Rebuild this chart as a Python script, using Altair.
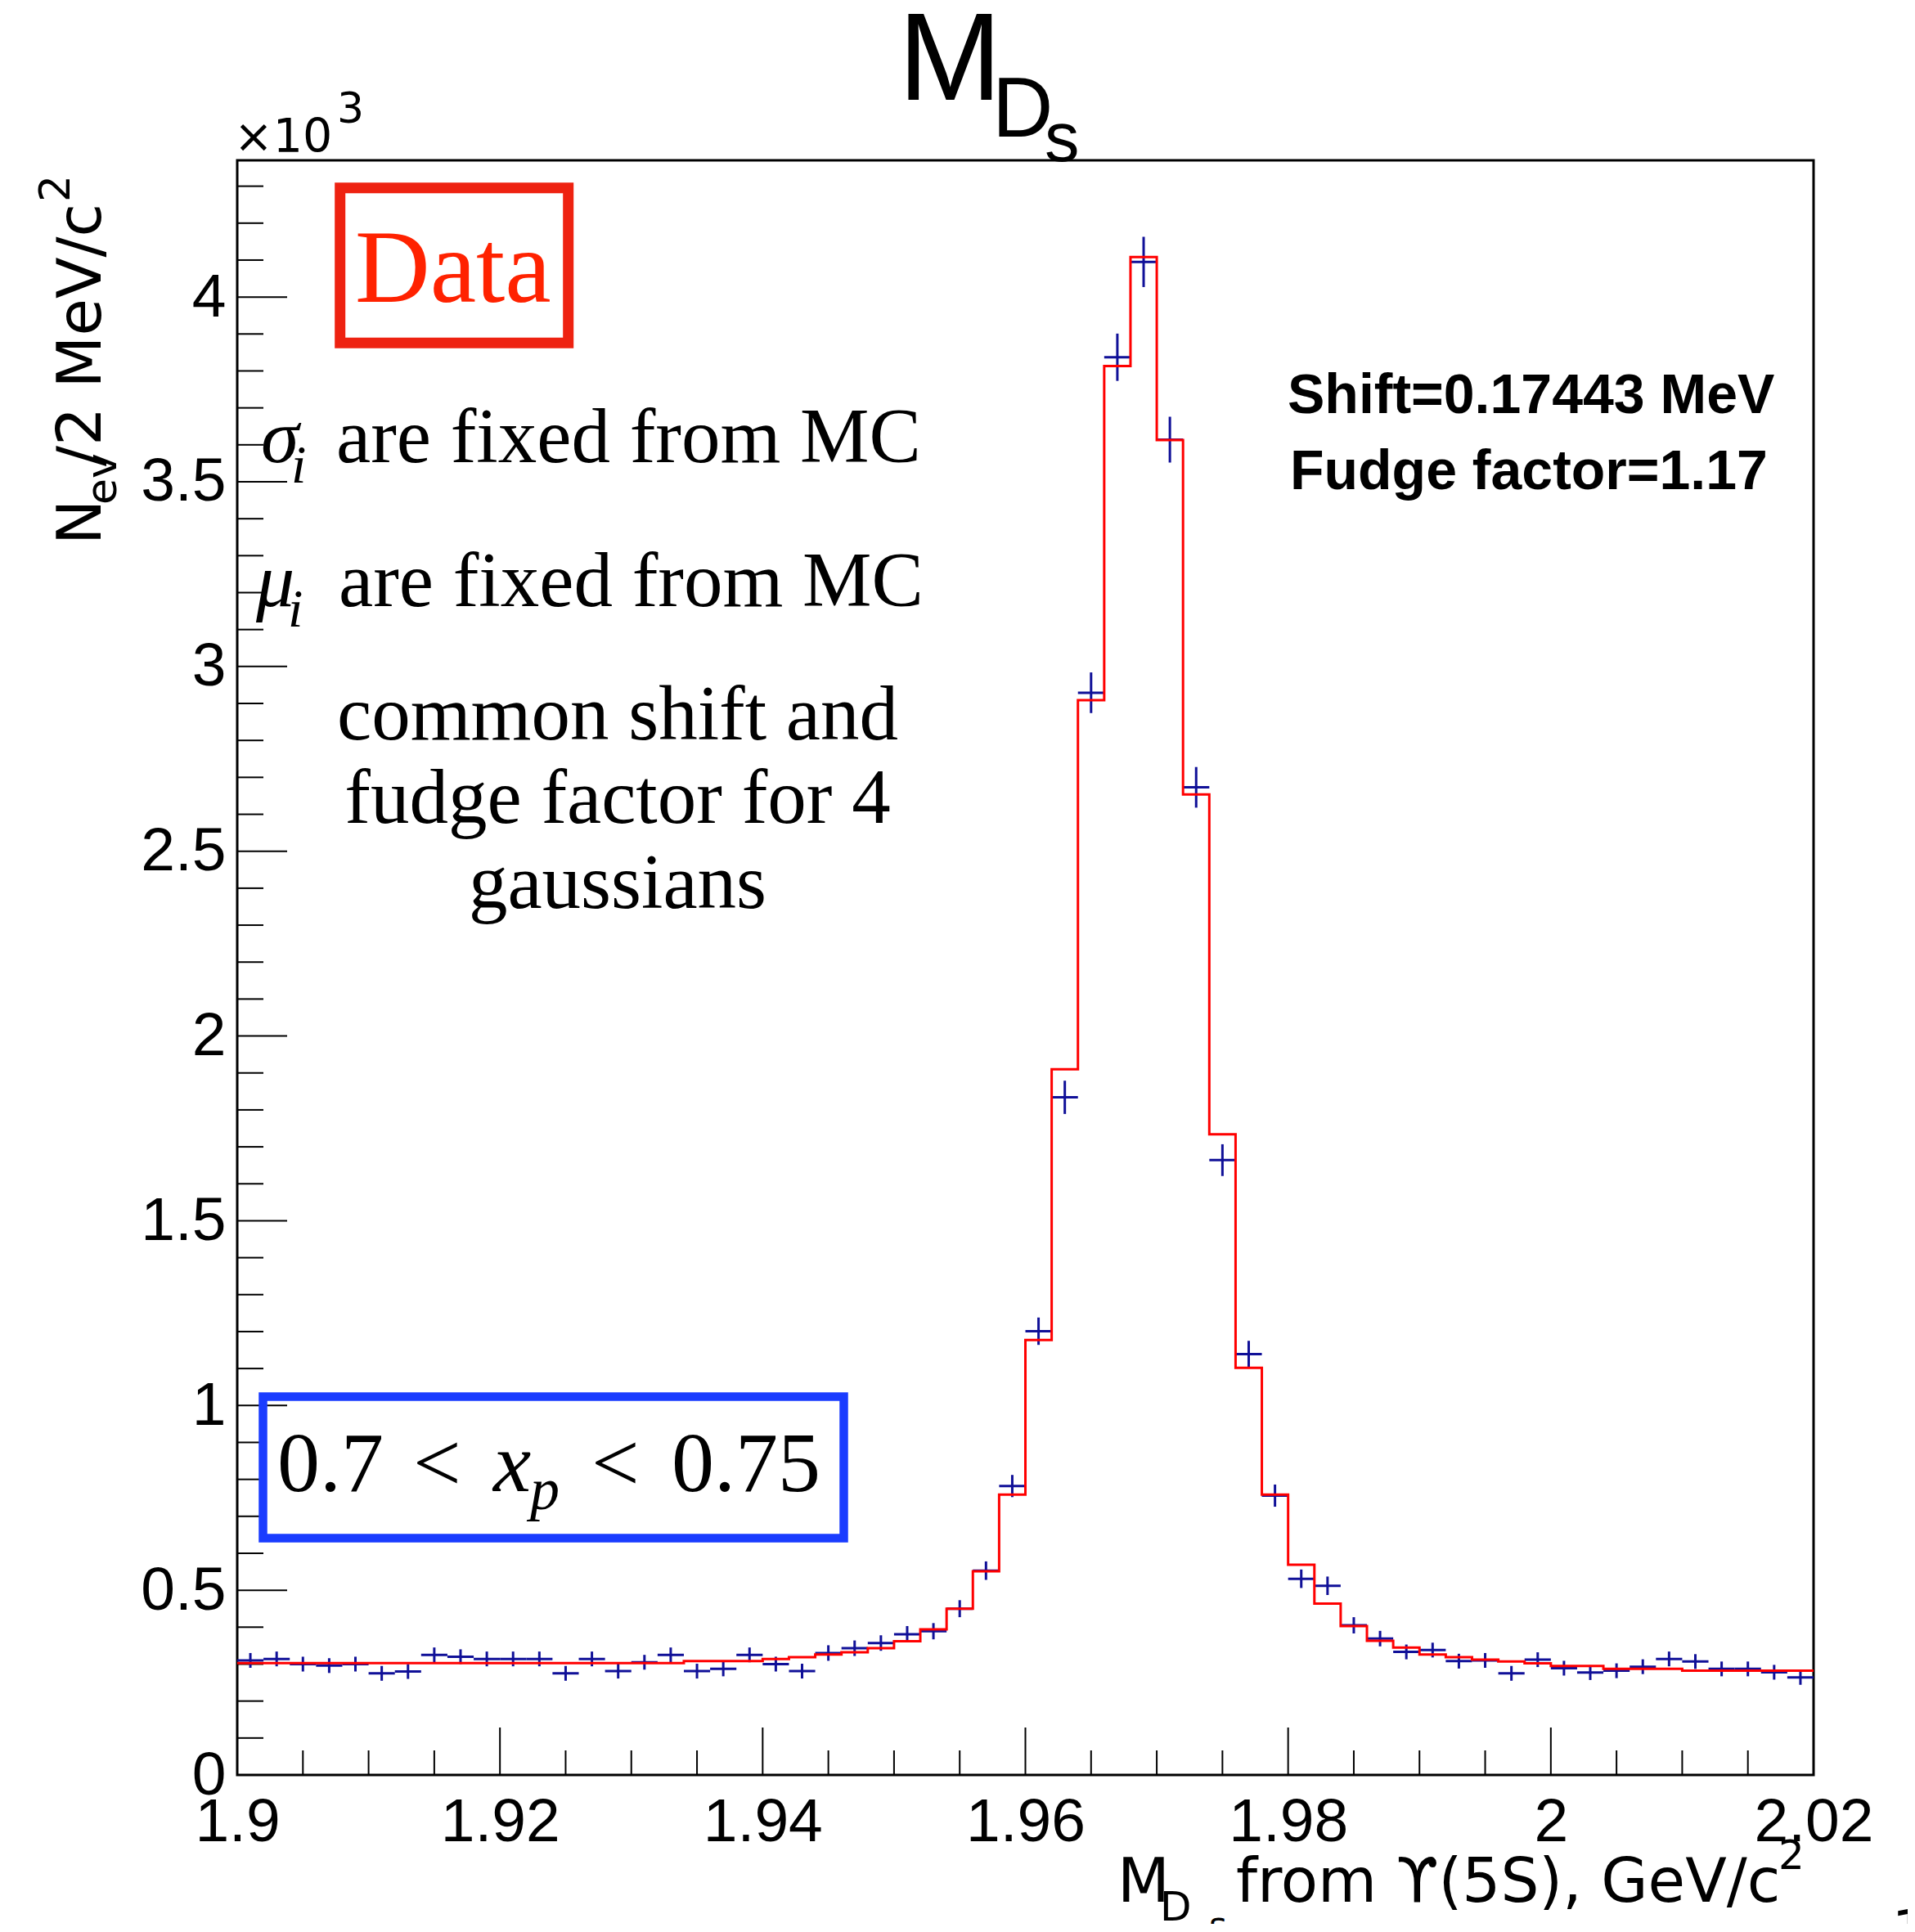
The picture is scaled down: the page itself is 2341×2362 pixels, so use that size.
import altair as alt
import pandas as pd

# ---------------- data (values in units of 10^3 events / 2 MeV) ----------------
X_MIN, X_MAX, BIN_W = 1.9, 2.02, 0.002
Y_MAX = 4.37

counts = [0.310, 0.314, 0.300, 0.296, 0.300, 0.275, 0.280, 0.325, 0.320, 0.314,
          0.314, 0.314, 0.275, 0.314, 0.281, 0.305, 0.325, 0.281, 0.287, 0.325,
          0.300, 0.281, 0.330, 0.343, 0.357, 0.381, 0.389, 0.450, 0.553, 0.782,
          1.201, 1.834, 2.929, 3.837, 4.095, 3.614, 2.673, 1.664, 1.139, 0.756,
          0.531, 0.512, 0.405, 0.369, 0.333, 0.338, 0.308, 0.310, 0.275, 0.312,
          0.289, 0.277, 0.282, 0.293, 0.314, 0.307, 0.287, 0.287, 0.278, 0.264]

errors = [0.020, 0.020, 0.020, 0.020, 0.020, 0.020, 0.020, 0.020, 0.020, 0.020,
          0.020, 0.020, 0.020, 0.020, 0.020, 0.020, 0.020, 0.020, 0.020, 0.020,
          0.020, 0.020, 0.021, 0.021, 0.021, 0.022, 0.022, 0.023, 0.025, 0.030,
          0.037, 0.045, 0.055, 0.064, 0.068, 0.062, 0.055, 0.043, 0.036, 0.030,
          0.025, 0.025, 0.022, 0.021, 0.020, 0.020, 0.020, 0.020, 0.020, 0.020,
          0.020, 0.020, 0.020, 0.020, 0.020, 0.020, 0.020, 0.020, 0.020, 0.020]

fit = [0.303, 0.303, 0.303, 0.303, 0.303, 0.303, 0.303, 0.303, 0.303, 0.303,
       0.303, 0.303, 0.303, 0.303, 0.303, 0.303, 0.303, 0.308, 0.308, 0.308,
       0.314, 0.319, 0.326, 0.332, 0.343, 0.362, 0.394, 0.450, 0.551, 0.759,
       1.177, 1.910, 2.909, 3.813, 4.108, 3.613, 2.654, 1.734, 1.102, 0.759,
       0.569, 0.464, 0.403, 0.363, 0.345, 0.326, 0.319, 0.312, 0.307, 0.302,
       0.295, 0.295, 0.287, 0.287, 0.287, 0.282, 0.282, 0.282, 0.282, 0.282]

x_tick_labels = [1.9, 1.92, 1.94, 1.96, 1.98, 2.0, 2.02]
y_tick_labels = [0, 0.5, 1, 1.5, 2, 2.5, 3, 3.5, 4]

# ---------------- tables ----------------
nb = len(counts)
edges = [round(X_MIN + BIN_W * i, 4) for i in range(nb + 1)]
pts = pd.DataFrame({
    "lo": edges[:-1], "hi": edges[1:],
    "c": [round((edges[i] + edges[i + 1]) / 2, 4) for i in range(nb)],
    "v": counts,
    "vlo": [counts[i] - errors[i] for i in range(nb)],
    "vhi": [counts[i] + errors[i] for i in range(nb)],
})
fit_df = pd.DataFrame({"x": edges, "y": fit + [fit[-1]]})

x_minor = [round(X_MIN + 0.005 * i, 4) for i in range(25)]
x_minor = [t for t in x_minor if all(abs(t - m) > 1e-6 for m in x_tick_labels)]
y_minor = [round(0.1 * i, 2) for i in range(44)]
y_minor = [t for t in y_minor if all(abs(t - m) > 1e-6 for m in y_tick_labels)]

W, H = 1927, 1974

xs = alt.Scale(domain=[X_MIN, X_MAX], nice=False, zero=False)
ys = alt.Scale(domain=[0, Y_MAX], nice=False, zero=False)

xaxis = alt.Axis(values=x_tick_labels, format="~g", title=None, ticks=False, tickSize=0,
                 domain=False, grid=False, labelFont="Liberation Sans", labelFontSize=75,
                 labelColor="black", labelPadding=21, labelFlush=False, labelOverlap=False,
                 labelBaseline="top")
yaxis = alt.Axis(values=y_tick_labels, format="~g", title=None, ticks=False, tickSize=0,
                 domain=False, grid=False, labelFont="Liberation Sans", labelFontSize=75,
                 labelColor="black", labelPadding=14, labelFlush=False, labelOverlap=False)

BLUE = "#101098"

hbars = alt.Chart(pts).mark_rule(color=BLUE, strokeWidth=3).encode(
    x=alt.X("lo:Q", scale=xs, axis=xaxis), x2="hi:Q",
    y=alt.Y("v:Q", scale=ys, axis=yaxis))
vbars = alt.Chart(pts).mark_rule(color=BLUE, strokeWidth=3).encode(
    x=alt.X("c:Q", scale=xs, axis=xaxis),
    y=alt.Y("vlo:Q", scale=ys, axis=yaxis), y2="vhi:Q")
fit_line = alt.Chart(fit_df).mark_line(color="#ff0000", strokeWidth=3, interpolate="step-after").encode(
    x=alt.X("x:Q", scale=xs, axis=xaxis), y=alt.Y("y:Q", scale=ys, axis=yaxis))

# inward ticks (ROOT style)
xt_major = alt.Chart(pd.DataFrame({"t": x_tick_labels})).mark_rule(color="black", strokeWidth=2).encode(
    x=alt.X("t:Q", scale=xs, axis=xaxis), y=alt.value(H), y2=alt.value(H - 58))
xt_minor = alt.Chart(pd.DataFrame({"t": x_minor})).mark_rule(color="black", strokeWidth=2).encode(
    x=alt.X("t:Q", scale=xs, axis=xaxis), y=alt.value(H), y2=alt.value(H - 30))
yt_major = alt.Chart(pd.DataFrame({"t": y_tick_labels})).mark_rule(color="black", strokeWidth=2).encode(
    y=alt.Y("t:Q", scale=ys, axis=yaxis), x=alt.value(0), x2=alt.value(61))
yt_minor = alt.Chart(pd.DataFrame({"t": y_minor})).mark_rule(color="black", strokeWidth=2).encode(
    y=alt.Y("t:Q", scale=ys, axis=yaxis), x=alt.value(0), x2=alt.value(32))

one = alt.Data(values=[{"k": 0}])


def txt(s, px, py, size, font="Liberation Sans", color="black", style="normal",
        weight="normal", angle=0, align="left"):
    return alt.Chart(one).mark_text(
        text=s, font=font, fontSize=size, color=color, fontStyle=style,
        fontWeight=weight, angle=angle, align=align, baseline="alphabetic"
    ).encode(x=alt.value(px), y=alt.value(py))


def box(x1, x2, y1, y2, color, sw):
    return alt.Chart(one).mark_rect(fill="white", fillOpacity=0, stroke=color, strokeWidth=sw).encode(
        x=alt.value(x1), x2=alt.value(x2), y=alt.value(y1), y2=alt.value(y2))


SERIF = "Liberation Serif"
DJ = "DejaVu Sans"

texts = [
    # title M_{D_s}
    txt("M", 808, -74, 152),
    txt("D", 923, -29, 103),
    txt("s", 987, 1, 85),
    # x10^3
    txt("\u00d710", -4, -10, 57, font=DJ),
    txt("3", 122, -46, 52, font=DJ),
    # y title
    txt("N", -167, 470, 74, font=DJ, angle=270),
    txt("ev", -148, 421, 52, font=DJ, angle=270),
    txt("/2 MeV/c", -167, 374, 74, font=DJ, angle=270),
    txt("2", -205, 51, 52, font=DJ, angle=270),
    # x title
    txt("M", 1076, 2129, 74, font=DJ),
    txt("D", 1128, 2152, 50, font=DJ),
    txt("s", 1188, 2172, 42, font=DJ),
    txt("from \u03d2(5S), GeV/c", 1221, 2129, 74, font=DJ),
    txt("2", 1884, 2089, 50, font=DJ),
    txt("1", 2023, 2186, 66, font=DJ),
    # Data box
    txt("Data", 144, 173, 127, font=SERIF, color="#ff2200"),
    # annotations
    txt("\u03c3", 29, 369, 94, font=SERIF, style="italic"),
    txt("i", 66, 394, 66, font=SERIF, style="italic"),
    txt("are fixed from MC", 121, 369, 95, font=SERIF),
    txt("\u03bc", 23, 545, 94, font=SERIF, style="italic"),
    txt("i", 62, 570, 66, font=SERIF, style="italic"),
    txt("are fixed from MC", 124, 545, 95, font=SERIF),
    txt("common shift and", 465, 708, 95, font=SERIF, align="center"),
    txt("fudge factor for 4", 465, 810, 95, font=SERIF, align="center"),
    txt("gaussians", 465, 914, 95, font=SERIF, align="center"),
    # x_p box
    txt("0.7", 49, 1627, 104, font=SERIF),
    txt("<", 215, 1627, 104, font=SERIF),
    txt("x", 313, 1627, 104, font=SERIF, style="italic"),
    txt("p", 358, 1649, 72, font=SERIF, style="italic"),
    txt("<", 433, 1627, 104, font=SERIF),
    txt("0.75", 531, 1627, 104, font=SERIF),
    # fit results
    txt("Shift=0.17443 MeV", 1284, 309, 68, weight="bold"),
    txt("Fudge factor=1.17", 1287, 402, 68, weight="bold"),
]

boxes = [
    box(125.7, 404.7, 33.7, 223.3, "#ee2211", 13),
    box(31.5, 741.5, 1511.5, 1684.5, "#1a3cff", 10.5),
]

chart = alt.layer(
    xt_major, xt_minor, yt_major, yt_minor, hbars, vbars, fit_line, *boxes, *texts
).properties(
    width=W, height=H,
    autosize=alt.AutoSizeParams(type="none"),
    padding={"left": 282, "top": 188, "right": 115, "bottom": 182},
    background="white",
).configure_view(stroke="black", strokeWidth=3)

chart.save("out.html", embed_options={"renderer": "svg", "actions": False})
